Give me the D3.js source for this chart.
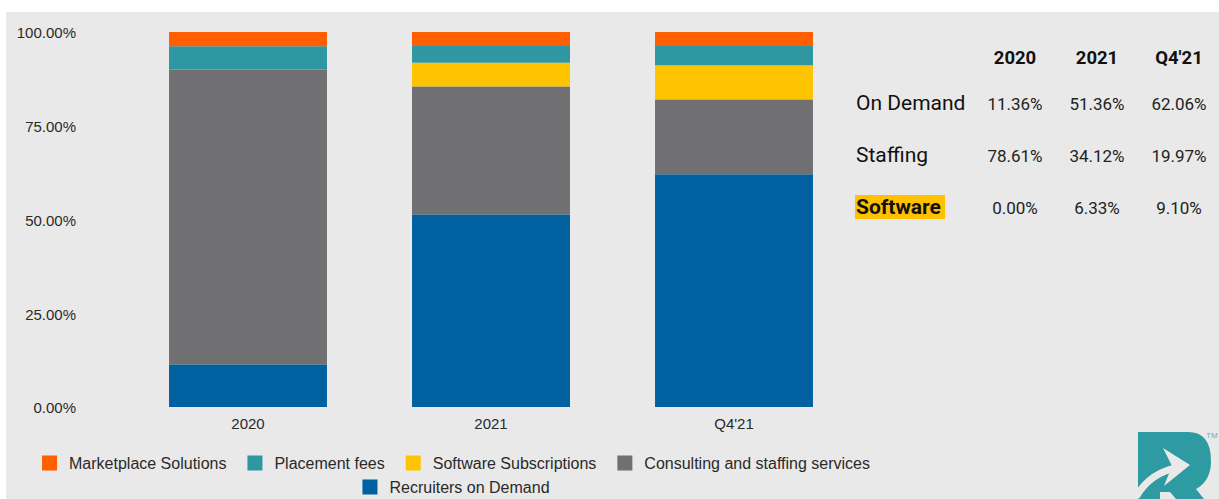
<!DOCTYPE html>
<html>
<head>
<meta charset="utf-8">
<script src="https://cdn.jsdelivr.net/npm/d3@7"></script>
<style>
  html, body { margin: 0; padding: 0; background: #fff; }
  svg { display: block; }
</style>
</head>
<body>
<script>
// values (percent of revenue)
const years = ["2020", "2021", "Q4'21"];
const marketplace = [3.8, 3.5, 3.5];
const placement = [6.23, 4.69, 5.37];
const software = [0.00, 6.33, 9.10];
const consulting = [78.61, 34.12, 19.97];
const recruiters = [11.36, 51.36, 62.06];

const seriesNames = ["Recruiters on Demand", "Consulting and staffing services", "Software Subscriptions", "Placement fees", "Marketplace Solutions"];
const seriesColors = ["#0060a0", "#707072", "#ffc400", "#2e97a1", "#ff5f00"];
const legendRow1 = ["Marketplace Solutions", "Placement fees", "Software Subscriptions", "Consulting and staffing services"];
const legendRow2 = ["Recruiters on Demand"];

const yTicks = [0, 25, 50, 75, 100];
const tableCols = ["2020", "2021", "Q4'21"];
const tableRows = ["On Demand", "Staffing", "Software"];

const width = 1219;
const height = 499;

const svg = d3.select('body').append('svg')
  .attr('width', width)
  .attr('height', height);

// slide background
svg.append('rect')
  .attr('x', 6).attr('y', 12)
  .attr('width', width - 6).attr('height', height - 12)
  .attr('fill', '#e9e9e9');

const x = d3.scaleBand()
  .domain(years)
  .range([126.5, 855.5])
  .paddingInner(0.35)
  .paddingOuter(0.175);

const y = d3.scaleLinear()
  .domain([0, 100])
  .range([407, 32]);

const color = d3.scaleOrdinal().domain(seriesNames).range(seriesColors);

const rows = years.map((yr, i) => ({
  year: yr,
  "Recruiters on Demand": recruiters[i],
  "Consulting and staffing services": consulting[i],
  "Software Subscriptions": software[i],
  "Placement fees": placement[i],
  "Marketplace Solutions": marketplace[i]
}));

const stacked = d3.stack().keys(seriesNames)(rows);

svg.append('g')
  .selectAll('g')
  .data(stacked)
  .enter().append('g')
  .attr('fill', d => color(d.key))
  .selectAll('rect')
  .data(d => d)
  .enter().append('rect')
  .attr('x', d => x(d.data.year))
  .attr('width', x.bandwidth())
  .attr('y', d => y(d[1]))
  .attr('height', d => y(d[0]) - y(d[1]));

// y axis
const yAxis = svg.append('g')
  .attr('transform', 'translate(79,1)')
  .call(d3.axisLeft(y).tickValues(yTicks).tickFormat(d => d.toFixed(2) + '%').tickSize(0).tickPadding(3));
yAxis.select('.domain').remove();
yAxis.selectAll('text')
  .attr('font-family', 'Liberation Sans, Arial, sans-serif')
  .attr('font-size', 15)
  .attr('fill', '#2a2a2a');

// x axis
const xAxis = svg.append('g')
  .attr('transform', 'translate(0,407)')
  .call(d3.axisBottom(x).tickSize(0).tickPadding(11));
xAxis.select('.domain').remove();
xAxis.selectAll('text')
  .attr('font-family', 'Liberation Sans, Arial, sans-serif')
  .attr('font-size', 15)
  .attr('fill', '#2a2a2a');

// legend, two centred rows
function legendRow(names, cy) {
  const g = svg.append('g');
  let cx = 0;
  names.forEach(name => {
    const item = g.append('g').attr('transform', `translate(${cx},0)`);
    item.append('rect')
      .attr('x', 0).attr('y', cy - 7.5)
      .attr('width', 15).attr('height', 15)
      .attr('fill', color(name));
    const t = item.append('text')
      .attr('x', 27).attr('y', cy)
      .attr('dy', '0.35em')
      .attr('font-family', 'Liberation Sans, Arial, sans-serif')
      .attr('font-size', 16)
      .attr('fill', '#2a2a2a')
      .text(name);
    cx += 27 + t.node().getComputedTextLength() + 21;
  });
  const total = cx - 21;
  g.attr('transform', `translate(${456 - total / 2},0)`);
}
legendRow(legendRow1, 463);
legendRow(legendRow2, 487);

// table on the right
const colX = d3.scalePoint().domain(tableCols).range([1015, 1179]);
const rowY = d3.scalePoint().domain(tableRows).range([109.5, 214]);
const tableVals = [recruiters, consulting, software];

svg.append('rect')
  .attr('x', 855).attr('y', 195)
  .attr('width', 90).attr('height', 24)
  .attr('fill', '#ffc000');

svg.selectAll('.colhead')
  .data(tableCols)
  .enter().append('text')
  .attr('x', d => colX(d))
  .attr('y', 63.5)
  .attr('text-anchor', 'middle')
  .attr('font-family', 'Roboto, sans-serif')
  .attr('font-weight', 'bold')
  .attr('font-size', 18.5)
  .attr('fill', '#111')
  .text(d => d);

svg.selectAll('.rowhead')
  .data(tableRows)
  .enter().append('text')
  .attr('x', 856)
  .attr('y', d => rowY(d))
  .attr('font-family', 'Roboto, sans-serif')
  .attr('font-weight', d => d === 'Software' ? 'bold' : 'normal')
  .attr('font-size', 21)
  .attr('fill', '#111')
  .text(d => d);

tableRows.forEach((r, i) => {
  svg.selectAll('.v' + i)
    .data(tableVals[i])
    .enter().append('text')
    .attr('x', (d, j) => colX(tableCols[j]))
    .attr('y', rowY(r))
    .attr('text-anchor', 'middle')
    .attr('font-family', 'Roboto, sans-serif')
    .attr('font-size', 17)
    .attr('fill', '#222')
    .text(d => d.toFixed(2) + '%');
});

// logo, bottom right
const logo = svg.append('g');
logo.append('path')
  .attr('d', 'M1138,432 H1188 Q1211,432 1211,461 Q1211,481 1196,489 L1204,499 H1176 L1170,492 H1160 V499 H1138 Z')
  .attr('fill', '#2e9aa2');
logo.append('path')
  .attr('d', 'M1136,497 Q1150,472 1180,467')
  .attr('fill', 'none')
  .attr('stroke', '#e9e9e9')
  .attr('stroke-width', 7);
logo.append('path')
  .attr('d', 'M1163,448 L1190,465 L1164,486 L1172,466 Z')
  .attr('fill', '#e9e9e9');
logo.append('text')
  .attr('x', 1206).attr('y', 438)
  .attr('font-family', 'Liberation Sans, Arial, sans-serif')
  .attr('font-size', 8)
  .attr('fill', '#5fb3b8')
  .text('TM');
</script>
</body>
</html>
